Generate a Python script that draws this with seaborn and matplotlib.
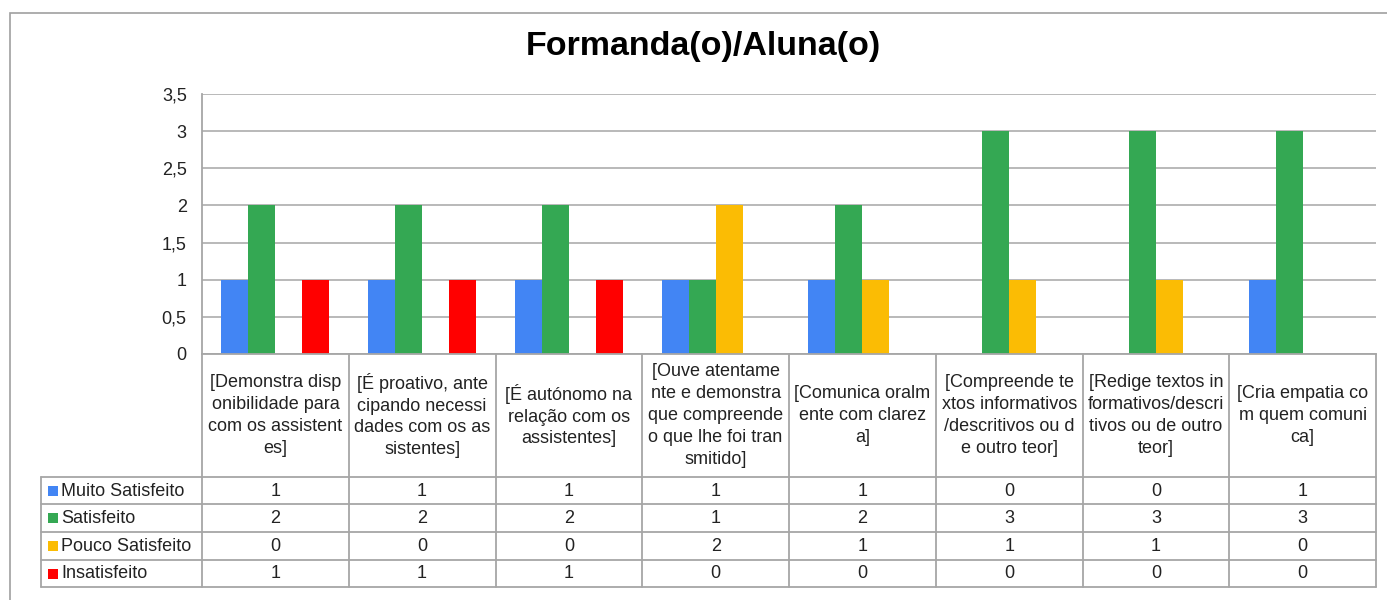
import matplotlib
matplotlib.use("Agg")
import matplotlib.pyplot as plt
import seaborn as sns
import pandas as pd
from matplotlib.patches import Rectangle

categories = [
    "[Demonstra disp\nonibilidade para\ncom os assistent\nes]",
    "[É proativo, ante\ncipando necessi\ndades com os as\nsistentes]",
    "[É autónomo na\nrelação com os\nassistentes]",
    "[Ouve atentame\nnte e demonstra\nque compreende\no que lhe foi tran\nsmitido]",
    "[Comunica oralm\nente com clarez\na]",
    "[Compreende te\nxtos informativos\n/descritivos ou d\ne outro teor]",
    "[Redige textos in\nformativos/descri\ntivos ou de outro\nteor]",
    "[Cria empatia co\nm quem comuni\nca]",
]
series = ["Muito Satisfeito", "Satisfeito", "Pouco Satisfeito", "Insatisfeito"]
muito_satisfeito = [1, 1, 1, 1, 1, 0, 0, 1]
satisfeito = [2, 2, 2, 1, 2, 3, 3, 3]
pouco_satisfeito = [0, 0, 0, 2, 1, 1, 1, 0]
insatisfeito = [1, 1, 1, 0, 0, 0, 0, 0]
yticks = [0, 0.5, 1, 1.5, 2, 2.5, 3, 3.5]
ytick_labels = ["0", "0,5", "1", "1,5", "2", "2,5", "3", "3,5"]
title = "Formanda(o)/Aluna(o)"

colors = ["#4285F4", "#34A853", "#FBBC04", "#FF0000"]
values = [muito_satisfeito, satisfeito, pouco_satisfeito, insatisfeito]

rows = []
for s, vals in zip(series, values):
    for i, v in enumerate(vals):
        rows.append({"cat": i, "serie": s, "val": v})
df = pd.DataFrame(rows)

sns.set_theme(style="white")
plt.rcParams["font.family"] = ["Liberation Sans", "DejaVu Sans"]

W, H = 1387, 600
fig = plt.figure(figsize=(W / 100, H / 100), dpi=100)
fig.patch.set_facecolor("white")

def fx(px):
    return px / W

def fy(py):
    return 1 - py / H

# outer border
fig.add_artist(Rectangle((fx(9.5), fy(700)), fx(1500), (700 - 12.5) / H,
                         transform=fig.transFigure, fill=False, edgecolor="#A0A0A0", lw=1.2))

left_px, right_px, top_px, bottom_px = 202, 1376, 94, 354
ax = fig.add_axes([fx(left_px), fy(bottom_px), fx(right_px - left_px), (bottom_px - top_px) / H])

sns.barplot(data=df, x="cat", y="val", hue="serie", hue_order=series, palette=colors,
            width=0.735, saturation=1, ax=ax, legend=False, errorbar=None)
for p in ax.patches:
    p.set_edgecolor("none")

ax.set_xlim(-0.5, 7.5)
ax.set_ylim(0, 3.5)
ax.set_yticks(yticks)
ax.set_yticklabels(ytick_labels, fontsize=13, color="#222222")
ax.set_xticks([])
ax.set_xlabel("")
ax.set_ylabel("")
ax.tick_params(axis="y", length=0, pad=11)
ax.yaxis.grid(True, color="#B3B3B3", lw=1.3)
ax.set_axisbelow(True)
for side in ["left", "bottom"]:
    ax.spines[side].set_visible(True)
    ax.spines[side].set_color("#A6A6A6")
    ax.spines[side].set_linewidth(1.3)
ax.spines["right"].set_visible(False)
ax.spines["top"].set_visible(False)

fig.text(fx(703), fy(47), title, ha="center", va="center", fontsize=24.5, fontweight="bold",
         color="#000000")

# table axes
tbl_bottom = 587
tax = fig.add_axes([fx(left_px), fy(tbl_bottom), fx(right_px - left_px), (tbl_bottom - bottom_px) / H])
tax.set_xlim(-0.5, 7.5)
tax.set_ylim(tbl_bottom, bottom_px)
tax.axis("off")

line_c = "#A6A6A6"
lw = 1.3
px_per_unit = (right_px - left_px) / 8.0
leg_left = -0.5 - (left_px - 41) / px_per_unit
row_lines = [477, 504, 532, 560, 587]

for k in range(9):
    tax.plot([k - 0.5, k - 0.5], [bottom_px, tbl_bottom], color=line_c, lw=lw, clip_on=False)
for yl in row_lines:
    tax.plot([leg_left, 7.5], [yl, yl], color=line_c, lw=lw, clip_on=False)
tax.plot([leg_left, leg_left], [row_lines[0], row_lines[-1]], color=line_c, lw=lw, clip_on=False)

# header labels
for i, c in enumerate(categories):
    tax.text(i, (bottom_px + row_lines[0]) / 2, c, ha="center", va="center", fontsize=13,
             color="#222222", linespacing=1.38)

# data rows
sq = 10 / px_per_unit
for r, (s, vals, col) in enumerate(zip(series, values, colors)):
    yc = (row_lines[r] + row_lines[r + 1]) / 2
    for i, v in enumerate(vals):
        tax.text(i, yc + 0.5, str(v), ha="center", va="center", fontsize=13, color="#222222")
    x0 = leg_left + 7 / px_per_unit
    tax.add_patch(Rectangle((x0, yc - 5), sq, 10, facecolor=col, edgecolor="none", clip_on=False))
    tax.text(leg_left + 20 / px_per_unit, yc + 0.5, s, ha="left", va="center", fontsize=13,
             color="#222222", clip_on=False)

fig.savefig("out.png", dpi=100)
